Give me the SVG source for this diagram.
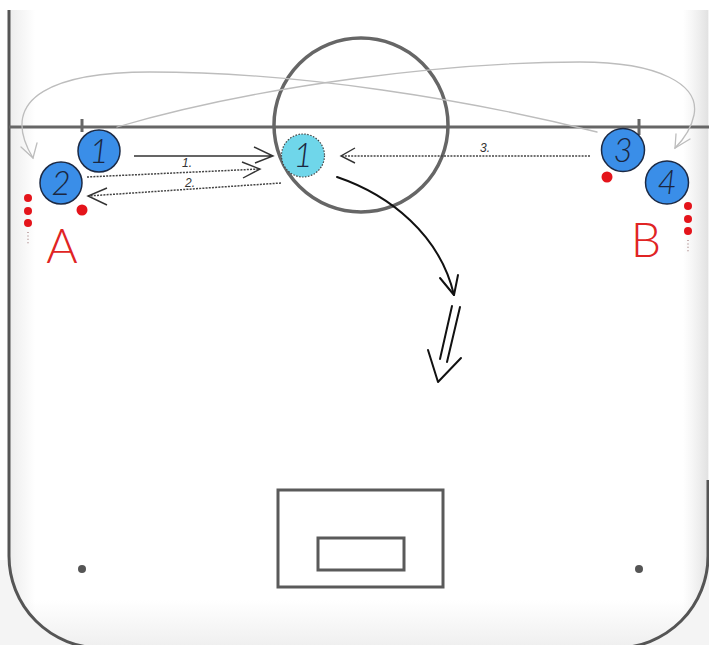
<svg xmlns="http://www.w3.org/2000/svg" width="709" height="645" viewBox="0 0 709 645">
<defs>
<style>
.board{fill:none;stroke:#555;stroke-width:3}
.line{fill:none;stroke:#666;stroke-width:3}
.tok{fill:#3a8ee8;stroke:#1c2a45;stroke-width:1.5}
.cy{fill:#6fd6ea;stroke:#444;stroke-width:1.2;stroke-dasharray:1.5 1.5}
.num{font-family:Lato,"Liberation Sans",Arial,sans-serif;font-size:33px;font-weight:300;font-style:italic;fill:#1b2740;text-anchor:middle}
.lbl{font-family:"Liberation Sans",Arial,sans-serif;font-size:12px;font-style:italic;fill:#333}
.big{font-family:Lato,"Liberation Sans",sans-serif;font-weight:300;font-size:48px;fill:#e02424;text-anchor:middle}
.pass{fill:none;stroke:#333;stroke-width:1.4}
.dot{fill:none;stroke:#444;stroke-width:1.5;stroke-dasharray:2 1.2}
.skate{fill:none;stroke:#111;stroke-width:2;stroke-linecap:round;stroke-linejoin:round}
.gray{fill:none;stroke:#bdbdbd;stroke-width:1.3;stroke-linecap:round}
.red{fill:#e4141b}
</style>
<linearGradient id="gr" x1="0" y1="0" x2="1" y2="0">
<stop offset="0" stop-color="#e8e8e8" stop-opacity="0"/>
<stop offset="1" stop-color="#e0e0e0"/>
</linearGradient>
<linearGradient id="gl" x1="0" y1="0" x2="1" y2="0">
<stop offset="0" stop-color="#ececec"/>
<stop offset="1" stop-color="#ececec" stop-opacity="0"/>
</linearGradient>
<linearGradient id="gb" x1="0" y1="0" x2="0" y2="1">
<stop offset="0" stop-color="#eeeeee" stop-opacity="0"/>
<stop offset="1" stop-color="#eeeeee"/>
</linearGradient>
<clipPath id="rk"><path d="M9,10 V556 A92,92 0 0 0 101,648 H616 A92,92 0 0 0 708,556 V10 Z"/></clipPath>
</defs>
<rect width="709" height="645" fill="#f4f4f4"/>
<rect width="709" height="10" fill="#ffffff"/>
<rect width="9" height="560" fill="#ffffff"/>
<g id="rink">
<path d="M9,10 V556 A92,92 0 0 0 101,648 H616 A92,92 0 0 0 708,556 V10 Z" fill="#ffffff"/>
<g clip-path="url(#rk)">
<rect x="683" y="10" width="26" height="640" fill="url(#gr)"/>
<rect x="9" y="10" width="26" height="640" fill="url(#gl)"/>
<rect x="0" y="600" width="709" height="50" fill="url(#gb)"/>
</g>
<path class="board" d="M9,10 V556 A92,92 0 0 0 101,648 M616,648 A92,92 0 0 0 708,556 V480"/>
<line class="line" x1="9" y1="127" x2="709" y2="127"/>
<line class="line" x1="82" y1="119" x2="82" y2="132"/>
<line class="line" x1="639" y1="119" x2="639" y2="135"/>
<circle cx="361" cy="125" r="87" fill="none" stroke="#666" stroke-width="3.5"/>
<rect x="278" y="490" width="165" height="97" fill="none" stroke="#5a5a5a" stroke-width="3"/>
<rect x="318" y="538" width="86" height="32" fill="none" stroke="#5a5a5a" stroke-width="3"/>
<circle cx="82" cy="569" r="4" fill="#555"/>
<circle cx="639" cy="569" r="4" fill="#555"/>
</g>
<g id="connectors">
<path class="gray" d="M597,132 C470,100 300,72 150,72 C60,72 -5,95 33,158"/>
<path class="gray" d="M21,147 L33,158 L37,143"/>
<path class="gray" d="M117,127 C260,85 450,62 580,62 C660,62 700,85 694,115 C691,130 683,140 675,148"/>
<path class="gray" d="M676,134 L675,148 L690,139"/>
<path class="pass" d="M134,156 L273,156 M254,147 L273,156 L255,163"/>
<path class="dot" d="M87,177 L260,169"/>
<path class="pass" d="M242,162 L260,169 L243,178"/>
<path class="dot" d="M281,183 L88,196"/>
<path class="pass" d="M107,188 L88,196 L107,205"/>
<path class="dot" d="M590,156 L341,156"/>
<path class="pass" d="M355,148 L341,156 L355,163"/>
<path class="skate" d="M337,177 C390,195 440,235 454,295"/>
<path class="skate" d="M440,278 L454,295 L458,275"/>
<path class="skate" d="M452,306 L440,359 M460,307 L447,362"/>
<path class="skate" d="M428,350 L438,382 L461,358"/>
<text class="lbl" x="182" y="167">1.</text>
<text class="lbl" x="185" y="187">2.</text>
<text class="lbl" x="480" y="152">3.</text>
</g>
<g id="player-1">
<circle class="tok" cx="99" cy="151" r="21"/>
<text class="num" x="99" y="163">1</text>
</g>
<g id="player-2">
<circle class="tok" cx="61" cy="183" r="21"/>
<text class="num" x="61" y="195">2</text>
</g>
<g id="player-1-center">
<circle class="cy" cx="303" cy="155.5" r="21.5"/>
<text class="num" x="303" y="167">1</text>
</g>
<g id="player-3">
<circle class="tok" cx="623" cy="150" r="21.5"/>
<text class="num" x="623" y="162">3</text>
</g>
<g id="player-4">
<circle class="tok" cx="667" cy="182.5" r="21.5"/>
<text class="num" x="667" y="194">4</text>
</g>
<g id="group-a">
<circle class="red" cx="82" cy="210" r="5.5"/>
<circle class="red" cx="28" cy="198" r="4"/>
<circle class="red" cx="28" cy="211" r="4"/>
<circle class="red" cx="28" cy="223" r="4"/>
<line x1="28" y1="232" x2="28" y2="245" stroke="#b09090" stroke-width="1.4" stroke-dasharray="1 2.4"/>
<text class="big" x="62" y="263">A</text>
</g>
<g id="group-b">
<circle class="red" cx="607" cy="177" r="5.5"/>
<circle class="red" cx="688" cy="206" r="4"/>
<circle class="red" cx="688" cy="219" r="4"/>
<circle class="red" cx="688" cy="231" r="4"/>
<line x1="688" y1="240" x2="688" y2="253" stroke="#b09090" stroke-width="1.4" stroke-dasharray="1 2.4"/>
<text class="big" x="646" y="257">B</text>
</g>
</svg>
